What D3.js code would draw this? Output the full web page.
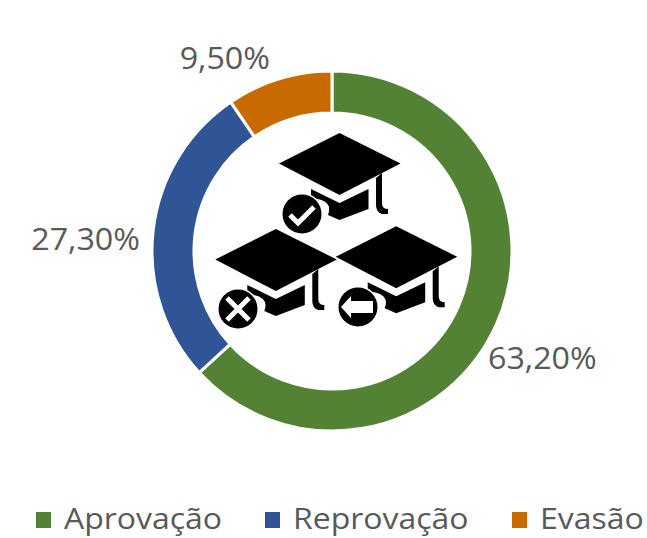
<!DOCTYPE html>
<html>
<head>
<meta charset="utf-8">
<script src="https://cdn.jsdelivr.net/npm/d3@7/dist/d3.min.js"></script>
<style>
html, body { margin: 0; padding: 0; background: #fff; }
text { font-family: "Open Sans", sans-serif; fill: #595959; }
</style>
</head>
<body>
<div id="chart"></div>
<script>
var categories = ["Aprovação", "Reprovação", "Evasão"];
var seriesValues = [63.2, 27.3, 9.5];
var valueLabels = ["63,20%", "27,30%", "9,50%"];
var colors = ["#548235", "#2F5597", "#C96A00"];

var w = 647, h = 538;
var cx = 332, cy = 251;
var fontSize = 31;
var stretch = 1.04;
var legendFontSize = 30;
var legendStretch = 1.065;

var svg = d3.select("#chart").append("svg")
	.attr("width", w)
	.attr("height", h)
	.style("display", "block");

var chart = svg.append("g").attr("transform", "translate(" + cx + "," + cy + ")");

var pie = d3.pie().sort(null).value(function(d) { return d; });
var arc = d3.arc().innerRadius(138).outerRadius(180);
var labelArc = d3.arc().innerRadius(232).outerRadius(232);

var arcs = pie(seriesValues);

chart.selectAll(".slice")
	.data(arcs).enter()
	.append("path")
	.attr("class", "slice")
	.attr("d", arc)
	.attr("fill", function(d, i) { return colors[i]; })
	.attr("stroke", "#fff")
	.attr("stroke-width", 3);

// nudges so the labels sit where the original has them
var labelNudge = [[-2, 13], [-16, 14], [-39, 28]];

chart.selectAll(".value")
	.data(arcs).enter()
	.append("text")
	.attr("class", "value")
	.attr("x", function(d, i) { return labelArc.centroid(d)[0] + labelNudge[i][0]; })
	.attr("y", function(d, i) { return labelArc.centroid(d)[1] + labelNudge[i][1]; })
	.attr("text-anchor", "middle")
	.attr("dominant-baseline", "central")
	.style("font-size", fontSize + "px")
	.text(function(d, i) { return valueLabels[i]; })
	.attr("lengthAdjust", "spacingAndGlyphs")
	.attr("textLength", function() { return this.getComputedTextLength() * stretch; });

// graduation caps, drawn in the coordinates of the top cap
var board = "M339.5,133 L400.5,163.5 L339.5,195 L279,163.5 Z";
var base = "M311,189 L339.5,203 L368.5,189 L368.5,209 L339.5,220 L328,215 Q334,200 311,198 Z";
var tassel = "M376,178 L382,173 L382,203 Q382,209 388,209 L388,214 L382,214 Q376,212 376,205 Z";

var caps = [
	{dx: 0, dy: 0, badge: "check", bx: 302, by: 214},
	{dx: -63.7, dy: 96, badge: "cross", bx: 238, by: 309},
	{dx: 56.7, dy: 93.3, badge: "arrow", bx: 358, by: 307}
];

var icons = svg.append("g");

caps.forEach(function(c) {
	var g = icons.append("g").attr("transform", "translate(" + c.dx + "," + c.dy + ")");
	g.append("path").attr("d", board).attr("fill", "#000");
	g.append("path").attr("d", base).attr("fill", "#000");
	g.append("path").attr("d", tassel).attr("fill", "#000");

	var b = icons.append("g").attr("transform", "translate(" + c.bx + "," + c.by + ")");
	b.append("circle").attr("r", 21).attr("fill", "#fff");
	b.append("circle").attr("r", 19.5).attr("fill", "#000");
	if (c.badge == "check") {
		b.append("path")
			.attr("d", "M-12,1 L-4,9 L12,-7")
			.attr("fill", "none")
			.attr("stroke", "#fff")
			.attr("stroke-width", 5);
	} else if (c.badge == "cross") {
		b.append("path")
			.attr("d", "M-11,-11 L11,11 M11,-11 L-11,11")
			.attr("fill", "none")
			.attr("stroke", "#fff")
			.attr("stroke-width", 5);
	} else {
		b.append("path")
			.attr("d", "M-17,0 L-7,-11 L-7,-6 L15,-6 L15,6 L-7,6 L-7,11 Z")
			.attr("fill", "#fff");
	}
});

// legend
var legendX = [36, 265, 512];
var legend = svg.selectAll(".legend")
	.data(categories).enter()
	.append("g")
	.attr("class", "legend")
	.attr("transform", function(d, i) { return "translate(" + legendX[i] + ",512)"; });

legend.append("rect")
	.attr("width", 15)
	.attr("height", 16)
	.attr("fill", function(d, i) { return colors[i]; });

legend.append("text")
	.attr("x", 28)
	.attr("y", 5)
	.attr("dominant-baseline", "central")
	.style("font-size", legendFontSize + "px")
	.text(function(d) { return d; })
	.attr("lengthAdjust", "spacingAndGlyphs")
	.attr("textLength", function() { return this.getComputedTextLength() * legendStretch; });
</script>
</body>
</html>
